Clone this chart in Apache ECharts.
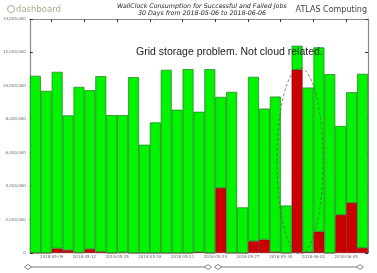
<!DOCTYPE html>
<html>
<head>
<meta charset="utf-8">
<script src="https://cdn.jsdelivr.net/npm/echarts@6/dist/echarts.min.js"></script>
<style>
  html, body { margin: 0; padding: 0; background: #fff; }
  #main { width: 377px; height: 273px; }
</style>
</head>
<body>
<div id="main"></div>
<script>
// one bar per day (bar starts at 00:00 of that day)
var days = [
  '2018-05-07', '2018-05-08', '2018-05-09', '2018-05-10', '2018-05-11', '2018-05-12',
  '2018-05-13', '2018-05-14', '2018-05-15', '2018-05-16', '2018-05-17', '2018-05-18',
  '2018-05-19', '2018-05-20', '2018-05-21', '2018-05-22', '2018-05-23', '2018-05-24',
  '2018-05-25', '2018-05-26', '2018-05-27', '2018-05-28', '2018-05-29', '2018-05-30',
  '2018-05-31', '2018-06-01', '2018-06-02', '2018-06-03', '2018-06-04', '2018-06-05',
  '2018-06-06'
];
var tickLabels = [
  '2018-05-09', '2018-05-12', '2018-05-15', '2018-05-18', '2018-05-21',
  '2018-05-24', '2018-05-27', '2018-05-30', '2018-06-02', '2018-06-05'
];
// wallclock in seconds
var failed = [
  0, 0, 270000, 170000, 20000, 230000, 70000, 0, 30000, 0,
  0, 0, 0, 0, 0, 50000, 0, 3890000, 0, 0,
  700000, 800000, 50000, 0, 10960000, 50000, 1280000, 0, 2280000, 3000000,
  300000
];
var successful = [
  10600000, 9700000, 10570000, 8060000, 9920000, 9510000, 10510000, 8250000, 8220000, 10520000,
  6480000, 7810000, 10960000, 8570000, 11000000, 8400000, 11000000, 5450000, 9640000, 2730000,
  9840000, 7840000, 9310000, 2840000, 1440000, 9850000, 11020000, 10700000, 5320000, 6620000,
  10420000
];

(function(){
  var chart = echarts.init(document.getElementById('main')),
      axisGrey = '#8a8a8a',
      labelGrey = '#666',
      boundaries = days.concat(['2018-06-07']);

  var showTick = function(idx, value) {
    return tickLabels.indexOf(value) >= 0;
  };

  var option = {
    backgroundColor: '#fff',
    animation: false,
    grid: { left: 27, right: 9, top: 19, bottom: 20 },
    xAxis: [
      {
        type: 'category',
        data: days,
        boundaryGap: true,
        axisLine: { show: false },
        axisTick: { show: false },
        axisLabel: { show: false }
      },
      {
        type: 'category',
        data: boundaries,
        boundaryGap: false,
        position: 'bottom',
        axisLine: { show: false },
        axisTick: { show: false },
        axisLabel: {
          interval: showTick,
          fontSize: 4,
          color: labelGrey,
          margin: 2,
          fontFamily: 'DejaVu Sans'
        }
      },
      {
        type: 'category',
        data: boundaries,
        boundaryGap: false,
        position: 'top',
        axisLine: { lineStyle: { color: axisGrey, width: 1 } },
        axisTick: { interval: showTick, inside: true, length: 3, lineStyle: { color: '#333' } },
        axisLabel: { show: false }
      }
    ],
    yAxis: [
      {
        type: 'value',
        min: 0,
        max: 14000000,
        interval: 2000000,
        position: 'left',
        axisLine: { show: true, lineStyle: { color: axisGrey, width: 1.2 } },
        axisTick: { show: true, inside: true, length: 3, lineStyle: { color: '#333' } },
        splitLine: { show: false },
        axisLabel: {
          fontSize: 4,
          color: labelGrey,
          margin: 4,
          fontFamily: 'DejaVu Sans',
          formatter: function(v) {
            return String(v).replace(/\B(?=(\d{3})+(?!\d))/g, ',');
          }
        }
      },
      {
        type: 'value',
        min: 0,
        max: 14000000,
        interval: 2000000,
        position: 'right',
        axisLine: { show: true, lineStyle: { color: axisGrey, width: 1.2 } },
        axisTick: { show: true, inside: true, length: 3, lineStyle: { color: '#333' } },
        splitLine: { show: false },
        axisLabel: { show: false }
      }
    ],
    series: [
      {
        name: 'failed',
        type: 'bar',
        stack: 'wc',
        data: failed,
        barCategoryGap: '0%',
        itemStyle: { color: '#cc0000', borderColor: '#5a0000', borderWidth: 0.5 }
      },
      {
        name: 'successful',
        type: 'bar',
        stack: 'wc',
        data: successful,
        barCategoryGap: '0%',
        itemStyle: { color: '#00f400', borderColor: '#1d7a1d', borderWidth: 0.7 }
      }
    ],
    graphic: [
      // logo
      { type: 'circle', shape: { cx: 11, cy: 9, r: 3.5 },
        style: { fill: 'none', stroke: '#9fb08c', lineWidth: 1 } },
      { type: 'text', left: 16, top: 5,
        style: { text: 'dashboard', fill: '#9fb08c', fontSize: 8.5, fontFamily: 'DejaVu Sans' } },
      // titles
      { type: 'text', left: 117, top: 3,
        style: { text: 'WallClock Consumption for Successful and Failed Jobs', fill: '#222',
                 fontSize: 6.3, fontStyle: 'italic', fontFamily: 'DejaVu Sans' } },
      { type: 'text', left: 138, top: 10.5,
        style: { text: '30 Days from 2018-05-06 to 2018-06-06', fill: '#222',
                 fontSize: 6.3, fontStyle: 'italic', fontFamily: 'DejaVu Sans' } },
      { type: 'text', right: 10, top: 5.5,
        style: { text: 'ATLAS Computing', fill: '#444', fontSize: 8, fontFamily: 'DejaVu Sans' } },
      // annotation
      { type: 'text', left: 136, top: 46.5, z: 100,
        style: { text: 'Grid storage problem. Not cloud related.', fill: '#222',
                 fontSize: 10.5, fontFamily: 'Liberation Sans' } },
      { type: 'ellipse', z: 100, shape: { cx: 300, cy: 161, rx: 23, ry: 93 },
        style: { fill: 'none', stroke: '#555', lineWidth: 0.7, lineDash: [3, 2] } },
      // range selector
      { type: 'line', shape: { x1: 31, y1: 267, x2: 205, y2: 267 },
        style: { stroke: '#777', lineWidth: 1 } },
      { type: 'line', shape: { x1: 221, y1: 267, x2: 357, y2: 267 },
        style: { stroke: '#777', lineWidth: 1 } },
      { type: 'polygon', shape: { points: [[24.5, 267], [28, 264.5], [31.5, 267], [28, 269.5]] },
        style: { fill: '#fff', stroke: '#666', lineWidth: 0.8 } },
      { type: 'polygon', shape: { points: [[204.5, 267], [208, 264.5], [211.5, 267], [208, 269.5]] },
        style: { fill: '#fff', stroke: '#666', lineWidth: 0.8 } },
      { type: 'polygon', shape: { points: [[214.5, 267], [218, 264.5], [221.5, 267], [218, 269.5]] },
        style: { fill: '#fff', stroke: '#666', lineWidth: 0.8 } },
      { type: 'polygon', shape: { points: [[356.5, 267], [360, 264.5], [363.5, 267], [360, 269.5]] },
        style: { fill: '#fff', stroke: '#666', lineWidth: 0.8 } }
    ]
  };

  chart.setOption(option);
})();
</script>
</body>
</html>
